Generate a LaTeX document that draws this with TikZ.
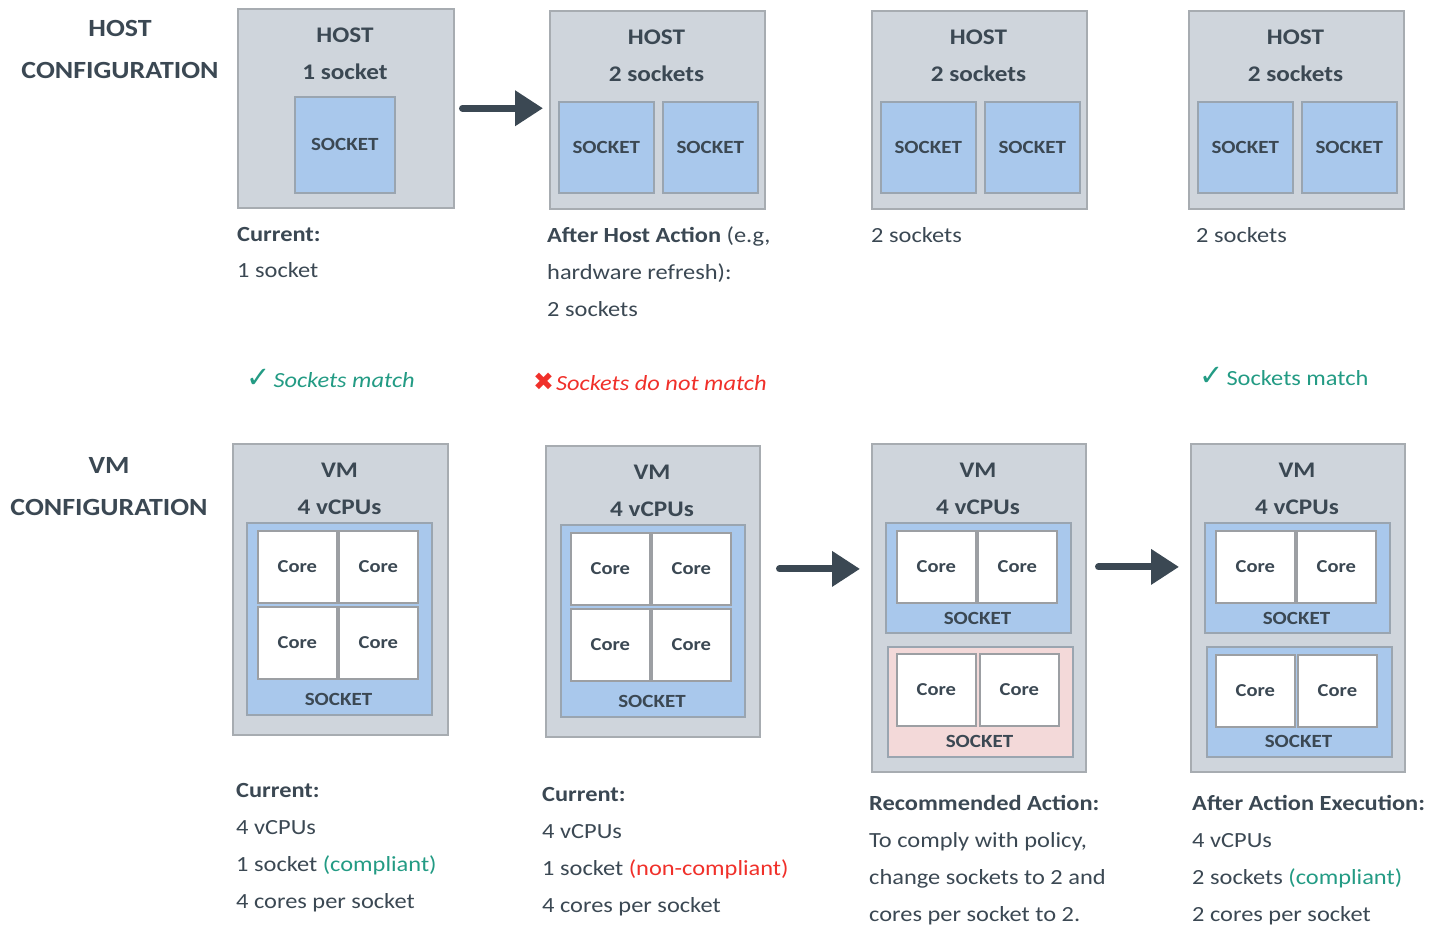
\documentclass[tikz,border=0pt]{standalone}
\usepackage{fontspec}
\setmainfont{Carlito}[FakeStretch=1.13]
\newfontfamily\symfont{DejaVu Sans}
\usetikzlibrary{arrows.meta}
\definecolor{txt}{HTML}{3B4853}
\definecolor{boxgray}{HTML}{CFD5DC}
\definecolor{boxline}{HTML}{A7ACB1}
\definecolor{sockblue}{HTML}{A9C8EC}
\definecolor{sockline}{HTML}{9AA5B0}
\definecolor{sockpink}{HTML}{F3D9D9}
\definecolor{coreline}{HTML}{9C9FA3}
\definecolor{okgreen}{HTML}{239B84}
\definecolor{badred}{HTML}{F0302A}
\tikzset{
  box/.style={draw=boxline, fill=boxgray, line width=1.5pt, inner sep=0pt, anchor=north west},
  sockb/.style={draw=sockline, fill=sockblue, line width=1.5pt, inner sep=0pt, anchor=north west,
     text=txt, font=\bfseries\fontsize{18.6}{22}\selectfont},
  sockp/.style={sockb, fill=sockpink},
  core/.style={draw=coreline, fill=white, line width=1.8pt, inner sep=0pt, anchor=north west,
     minimum width=79pt, minimum height=72pt, text=txt, font=\bfseries\fontsize{18.2}{22}\selectfont},
  lbl/.style={text=txt, font=\fontsize{21.6}{24}\selectfont, inner sep=0pt, anchor=base west},
  blbl/.style={lbl, font=\bfseries\fontsize{21.6}{24}\selectfont},
  ttl/.style={text=txt, font=\bfseries\fontsize{22.3}{26}\selectfont, inner sep=0pt, anchor=base},
  big/.style={text=txt, font=\bfseries\fontsize{24.7}{28}\selectfont, inner sep=0pt, anchor=base},
  sklbl/.style={text=txt, font=\bfseries\fontsize{18.6}{22}\selectfont, inner sep=0pt, anchor=base},
  arr/.style={draw=txt, line width=7pt, line cap=round, -{Triangle[length=28pt,width=34pt]}},
}
\begin{document}
\begin{tikzpicture}[x=1pt,y=-1pt]
\useasboundingbox (0,0) rectangle (1445,926);

% left titles
\node[big] (th1) at (120,36) {HOST};
\node[big] (th2) at (120,78) {CONFIGURATION};
\node[big] (tv1) at (109,473) {VM};
\node[big] (tv2) at (109,515) {CONFIGURATION};

% ---------- host boxes ----------
\node[box, minimum width=216pt, minimum height=199pt] (h1) at (237,8) {};
\node[ttl] (h1t) at (345,42) {HOST};
\node[ttl] (h1n) at (345,79) {1 socket};
\node[sockb, minimum width=100pt, minimum height=96pt] (h1s) at (294,96) {SOCKET};

\node[box, minimum width=215pt, minimum height=198pt] (h2) at (549,10) {};
\node[ttl] (h2t) at (656.5,44) {HOST};
\node[ttl] (h2n) at (656.5,81) {2 sockets};
\node[sockb, minimum width=95pt, minimum height=91pt] (h2s1) at (558,101) {SOCKET};
\node[sockb, minimum width=95pt, minimum height=91pt] (h2s2) at (662,101) {SOCKET};

\node[box, minimum width=215pt, minimum height=198pt] (h3) at (871,10) {};
\node[ttl] (h3t) at (978.5,44) {HOST};
\node[ttl] (h3n) at (978.5,81) {2 sockets};
\node[sockb, minimum width=95pt, minimum height=91pt] (h3s1) at (880,101) {SOCKET};
\node[sockb, minimum width=95pt, minimum height=91pt] (h3s2) at (984,101) {SOCKET};

\node[box, minimum width=215pt, minimum height=198pt] (h4) at (1188,10) {};
\node[ttl] (h4t) at (1295.5,44) {HOST};
\node[ttl] (h4n) at (1295.5,81) {2 sockets};
\node[sockb, minimum width=95pt, minimum height=91pt] (h4s1) at (1197,101) {SOCKET};
\node[sockb, minimum width=95pt, minimum height=91pt] (h4s2) at (1301,101) {SOCKET};

\draw[arr] ([xshift=8pt]h1.east) -- ([xshift=-6pt]h1.east -| h2.west);

% host captions
\node[blbl] (hc1a) at (237,241) {Current:};
\node[lbl]  (hc1b) at (237,277) {1 socket};
\node[lbl]  (hc2a) at (547,242) {\textbf{After Host Action} (e.g,};
\node[lbl]  (hc2b) at (547,279) {hardware refresh):};
\node[lbl]  (hc2c) at (547,316) {2 sockets};
\node[lbl]  (hc3a) at (871,242) {2 sockets};
\node[lbl]  (hc4a) at (1196,242) {2 sockets};

% match lines
\node[lbl, text=okgreen] (m1) at (246,387) {{\symfont\fontsize{29}{29}\selectfont ✓}\kern3pt\textit{Sockets match}};
\node[lbl, text=badred] (m2) at (533,390) {{\symfont\fontsize{25}{25}\selectfont ✖}\kern2pt\textit{Sockets do not match}};
\node[lbl, text=okgreen] (m3) at (1199,385) {{\symfont\fontsize{29}{29}\selectfont ✓}\kern3pt Sockets match};

% ---------- VM boxes ----------
% VM1
\node[box, minimum width=215pt, minimum height=291pt] (vm1) at (232,443) {};
\node[ttl] (vm1t) at (339.5,477) {VM};
\node[ttl] (vm1n) at (339.5,514) {4 vCPUs};
\node[sockb, minimum width=185pt, minimum height=192pt] (vm1s) at (246,522) {};
\node[core] (vm1c1) at (257,530) {Core};
\node[core] (vm1c2) at (338,530) {Core};
\node[core] (vm1c3) at (257,606) {Core};
\node[core] (vm1c4) at (338,606) {Core};
\node[sklbl] (vm1l) at (338.5,705) {SOCKET};

% VM2
\node[box, minimum width=214pt, minimum height=291pt] (vm2) at (545,445) {};
\node[ttl] (vm2t) at (652,479) {VM};
\node[ttl] (vm2n) at (652,516) {4 vCPUs};
\node[sockb, minimum width=184pt, minimum height=192pt] (vm2s) at (560,524) {};
\node[core] (vm2c1) at (570,532) {Core};
\node[core] (vm2c2) at (651,532) {Core};
\node[core] (vm2c3) at (570,608) {Core};
\node[core] (vm2c4) at (651,608) {Core};
\node[sklbl] (vm2l) at (652,707) {SOCKET};

% VM3
\node[box, minimum width=214pt, minimum height=328pt] (vm3) at (871,443) {};
\node[ttl] (vm3t) at (978,477) {VM};
\node[ttl] (vm3n) at (978,514) {4 vCPUs};
\node[sockb, minimum width=185pt, minimum height=110pt] (vm3s1) at (885,522) {};
\node[core] (vm3c1) at (896,530) {Core};
\node[core] (vm3c2) at (977,530) {Core};
\node[sklbl] (vm3l1) at (977.5,624) {SOCKET};
\node[sockp, minimum width=185pt, minimum height=110pt] (vm3s2) at (887,646) {};
\node[core] (vm3c3) at (896,653) {Core};
\node[core] (vm3c4) at (979,653) {Core};
\node[sklbl] (vm3l2) at (979.5,747) {SOCKET};

% VM4
\node[box, minimum width=214pt, minimum height=328pt] (vm4) at (1190,443) {};
\node[ttl] (vm4t) at (1297,477) {VM};
\node[ttl] (vm4n) at (1297,514) {4 vCPUs};
\node[sockb, minimum width=185pt, minimum height=110pt] (vm4s1) at (1204,522) {};
\node[core] (vm4c1) at (1215,530) {Core};
\node[core] (vm4c2) at (1296,530) {Core};
\node[sklbl] (vm4l1) at (1296.5,624) {SOCKET};
\node[sockb, minimum width=185pt, minimum height=110pt] (vm4s2) at (1206,646) {};
\node[core] (vm4c3) at (1215,654) {Core};
\node[core] (vm4c4) at (1297,654) {Core};
\node[sklbl] (vm4l2) at (1298.5,747) {SOCKET};

\draw[arr] ([xshift=19pt]vm2c1.center -| vm2.east) -- ([xshift=-11pt]vm2c1.center -| vm3.west);
\draw[arr] ([xshift=12pt]vm3c1.center -| vm3.east) -- ([xshift=-11pt]vm3c1.center -| vm4.west);

% VM captions
\node[blbl] (v1a) at (236,797) {Current:};
\node[lbl]  (v1b) at (236,834) {4 vCPUs};
\node[lbl]  (v1c) at (236,871) {1 socket \textcolor{okgreen}{(compliant)}};
\node[lbl]  (v1d) at (236,908) {4 cores per socket};

\node[blbl] (v2a) at (542,801) {Current:};
\node[lbl]  (v2b) at (542,838) {4 vCPUs};
\node[lbl]  (v2c) at (542,875) {1 socket \textcolor{badred}{(non-compliant)}};
\node[lbl]  (v2d) at (542,912) {4 cores per socket};

\node[blbl] (v3a) at (869,810) {Recommended Action:};
\node[lbl]  (v3b) at (869,847) {To comply with policy,};
\node[lbl]  (v3c) at (869,884) {change sockets to 2 and};
\node[lbl]  (v3d) at (869,921) {cores per socket to 2.};

\node[blbl] (v4a) at (1192,810) {After Action Execution:};
\node[lbl]  (v4b) at (1192,847) {4 vCPUs};
\node[lbl]  (v4c) at (1192,884) {2 sockets \textcolor{okgreen}{(compliant)}};
\node[lbl]  (v4d) at (1192,921) {2 cores per socket};
\end{tikzpicture}
\end{document}
